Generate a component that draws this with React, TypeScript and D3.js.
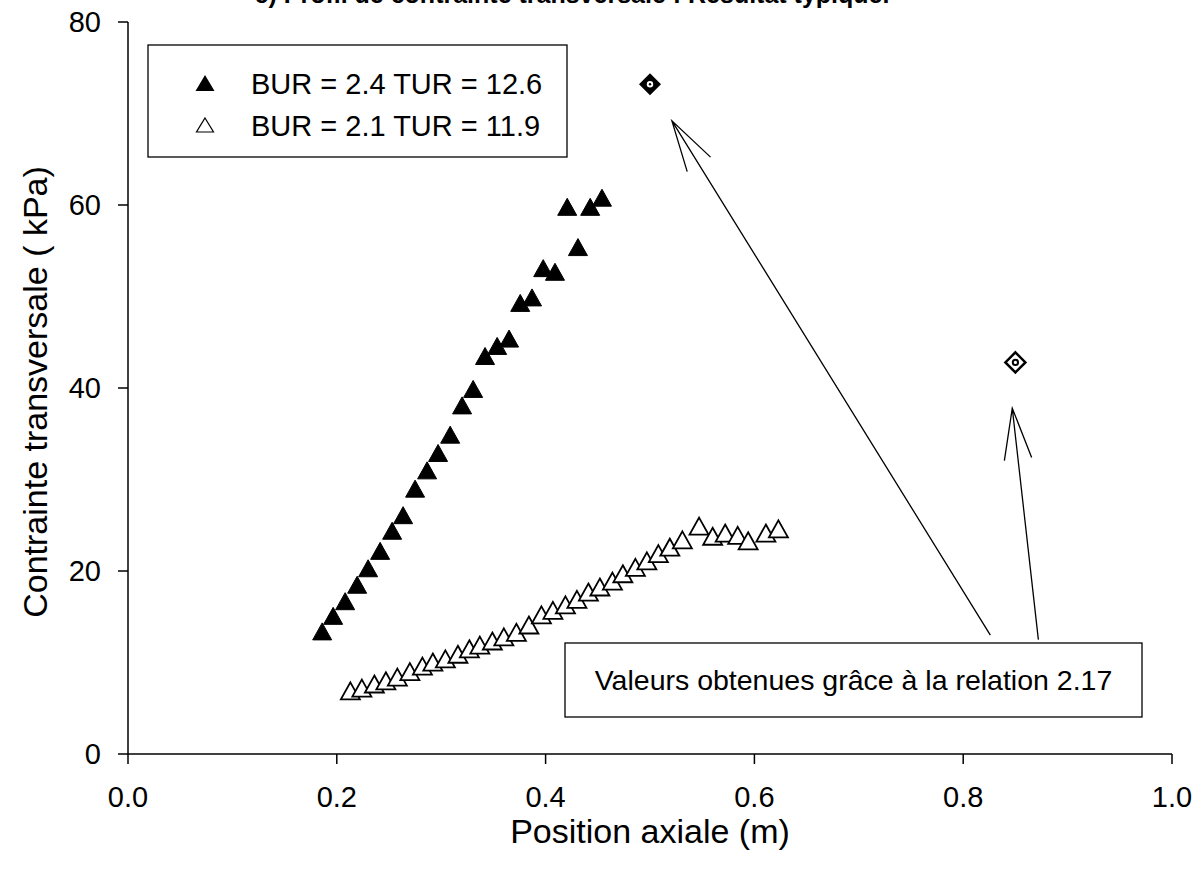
import React from "react";
import * as d3 from "d3";

// Series 1: BUR = 2.4 TUR = 12.6 (filled triangles)
const posFilled = [0.186, 0.1965, 0.208, 0.2195, 0.23, 0.2415, 0.253, 0.2635, 0.275, 0.2865, 0.297, 0.3086, 0.32, 0.3306, 0.342, 0.3536, 0.365, 0.3757, 0.387, 0.3977, 0.409, 0.4207, 0.431, 0.4427, 0.454];
const valFilled = [13.4, 15.1, 16.7, 18.5, 20.3, 22.2, 24.4, 26.1, 29.0, 31.0, 32.9, 34.9, 38.1, 39.9, 43.5, 44.6, 45.4, 49.3, 49.9, 53.1, 52.7, 59.8, 55.4, 59.8, 60.8];

// Series 2: BUR = 2.1 TUR = 11.9 (open triangles)
const posOpen = [0.213, 0.224, 0.236, 0.247, 0.258, 0.27, 0.282, 0.292, 0.304, 0.316, 0.327, 0.337, 0.349, 0.36, 0.372, 0.384, 0.396, 0.407, 0.419, 0.43, 0.441, 0.452, 0.464, 0.474, 0.486, 0.497, 0.508, 0.519, 0.531, 0.547, 0.56, 0.572, 0.584, 0.594, 0.611, 0.623];
const valOpen = [6.9, 7.2, 7.65, 8.0, 8.4, 9.0, 9.6, 10.05, 10.4, 10.9, 11.5, 11.9, 12.35, 12.8, 13.3, 14.1, 15.2, 15.7, 16.3, 16.9, 17.7, 18.25, 18.9, 19.7, 20.4, 21.1, 21.9, 22.6, 23.4, 24.9, 23.8, 24.15, 23.9, 23.3, 24.15, 24.6];

// Computed values (relation 2.17)
const calcPos = [0.5, 0.85];
const calcVal = [73.2, 42.8];

// Arrows: from (base) to (tip), data coords
const arrowBase = [[0.826, 13.0], [0.872, 12.5]];
const arrowTip = [[0.521, 69.2], [0.847, 37.8]];

const xTicks = [0, 0.2, 0.4, 0.6, 0.8, 1.0];
const yTicks = [0, 20, 40, 60, 80];

const legendLabels = ["BUR = 2.4 TUR = 12.6", "BUR = 2.1 TUR = 11.9"];
const noteText = "Valeurs obtenues grâce à la relation 2.17";
const titleText = "c) Profil de contrainte transversale : Résultat typique.";
const xTitle = "Position axiale (m)";
const yTitle = "Contrainte transversale ( kPa)";

const W = 1203;
const H = 878;
const FONT = "Arial, 'Liberation Sans', Helvetica, sans-serif";

const x = d3.scaleLinear().domain([0, 1]).range([128, 1172]);
const y = d3.scaleLinear().domain([0, 80]).range([754, 22]);

function tri(cx: number, cy: number, w: number, h: number) {
  return `M${cx},${cy - h / 2}L${cx + w / 2},${cy + h / 2}L${cx - w / 2},${cy + h / 2}Z`;
}

function arrow(bx: number, by: number, tx: number, ty: number, len: number, ang: number) {
  const a = Math.atan2(by - ty, bx - tx);
  const a1 = a + (ang * Math.PI) / 180;
  const a2 = a - (ang * Math.PI) / 180;
  return `M${bx},${by}L${tx},${ty}M${tx + len * Math.cos(a1)},${ty + len * Math.sin(a1)}L${tx},${ty}L${tx + len * Math.cos(a2)},${ty + len * Math.sin(a2)}`;
}

export default function App() {
  const x0 = x(0), x1 = x(1), y0 = y(0), y1 = y(80);
  return (
    <svg width={W} height={H} style={{ position: "absolute", left: 0, top: 0, background: "#fff" }} fontFamily={FONT}>
      <rect x={0} y={0} width={W} height={H} fill="#fff" />
      {/* Title (cut off at top edge, as in the reference) */}
      <text x={572} y={3} textAnchor="middle" fontSize={25} fontWeight="bold">{titleText}</text>

      {/* Axes */}
      <line x1={x0} y1={y0} x2={x1} y2={y0} stroke="#000" strokeWidth={1.5} />
      <line x1={x0} y1={y0} x2={x0} y2={y1} stroke="#000" strokeWidth={1.5} />
      {xTicks.map((t) => (
        <g key={"xt" + t}>
          <line x1={x(t)} x2={x(t)} y1={y0} y2={y0 + 10} stroke="#000" strokeWidth={1.5} />
          <text x={x(t)} y={807} textAnchor="middle" fontSize={29}>{t.toFixed(1)}</text>
        </g>
      ))}
      {yTicks.map((t) => (
        <g key={"yt" + t}>
          <line x1={x0 - 10} x2={x0} y1={y(t)} y2={y(t)} stroke="#000" strokeWidth={1.5} />
          <text x={101} y={y(t) + 10} textAnchor="end" fontSize={29}>{t}</text>
        </g>
      ))}
      <text x={650} y={843} textAnchor="middle" fontSize={34}>{xTitle}</text>
      <text transform={`translate(47,${392}) rotate(-90)`} textAnchor="middle" fontSize={34}>{yTitle}</text>

      {/* Open triangles */}
      {posOpen.map((p, i) => (
        <path key={"o" + i} d={tri(x(p), y(valOpen[i]), 19, 17)} fill="#fff" stroke="#000" strokeWidth={1.8} strokeLinejoin="miter" />
      ))}
      {/* Filled triangles */}
      {posFilled.map((p, i) => (
        <path key={"f" + i} d={tri(x(p), y(valFilled[i]), 19, 17)} fill="#000" stroke="#000" strokeWidth={1} />
      ))}

      {/* Calculated diamonds */}
      <g>
        <path d={`M${x(calcPos[0])},${y(calcVal[0]) - 11}l11,11l-11,11l-11,-11Z`} fill="#000" />
        <circle cx={x(calcPos[0])} cy={y(calcVal[0])} r={3.2} fill="#fff" />
        <circle cx={x(calcPos[0])} cy={y(calcVal[0])} r={1.2} fill="#000" />
        <path d={`M${x(calcPos[1])},${y(calcVal[1]) - 10}l10,10l-10,10l-10,-10Z`} fill="#fff" stroke="#000" strokeWidth={2.5} />
        <circle cx={x(calcPos[1])} cy={y(calcVal[1])} r={2.6} fill="#fff" stroke="#000" strokeWidth={2} />
      </g>

      {/* Arrows */}
      {arrowBase.map((b, i) => (
        <path key={"a" + i} d={arrow(x(b[0]), y(b[1]), x(arrowTip[i][0]), y(arrowTip[i][1]), 53, 15)} fill="none" stroke="#000" strokeWidth={1.3} />
      ))}

      {/* Legend */}
      <rect x={148} y={45} width={419} height={112} fill="#fff" stroke="#000" strokeWidth={1.3} />
      <path d={tri(205, 83, 19, 16)} fill="#000" />
      <path d={tri(205, 125, 17, 14)} fill="#fff" stroke="#000" strokeWidth={1.2} />
      <text x={251} y={94} fontSize={29}>{legendLabels[0]}</text>
      <text x={251} y={136} fontSize={29}>{legendLabels[1]}</text>

      {/* Note box */}
      <rect x={565} y={643} width={577} height={74} fill="#fff" stroke="#000" strokeWidth={1.3} />
      <text x={853.5} y={690} textAnchor="middle" fontSize={28.5}>{noteText}</text>
    </svg>
  );
}
